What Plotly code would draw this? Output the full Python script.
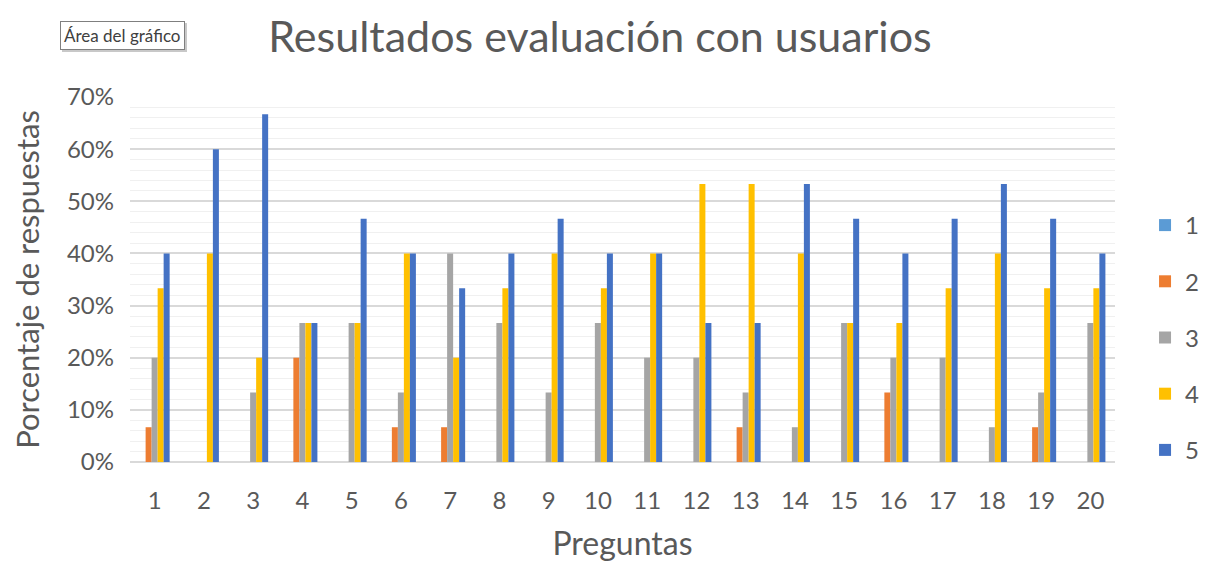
import plotly.graph_objects as go

preguntas = [str(i) for i in range(1, 21)]
serie_1 = [0] * 20
serie_2 = [6.67, 0, 0, 20, 0, 6.67, 6.67, 0, 0, 0, 0, 0, 6.67, 0, 0, 13.33, 0, 0, 6.67, 0]
serie_3 = [20, 0, 13.33, 26.67, 26.67, 13.33, 40, 26.67, 13.33, 26.67, 20, 20, 13.33, 6.67, 26.67, 20, 20, 6.67, 13.33, 26.67]
serie_4 = [33.33, 40, 20, 26.67, 26.67, 40, 20, 33.33, 40, 33.33, 40, 53.33, 53.33, 40, 26.67, 26.67, 33.33, 40, 33.33, 33.33]
serie_5 = [40, 60, 66.67, 26.67, 46.67, 40, 33.33, 40, 46.67, 40, 40, 26.67, 26.67, 53.33, 46.67, 40, 46.67, 53.33, 46.67, 40]
nombres = ["1", "2", "3", "4", "5"]
colores = ["#5B9BD5", "#ED7D31", "#A5A5A5", "#FFC000", "#4472C4"]
y_ticks = [0, 10, 20, 30, 40, 50, 60, 70]

FONT = "Lato, Noto Sans, sans-serif"
GREY = "#595959"

fig = go.Figure()
for nombre, valores, color in zip(nombres, [serie_1, serie_2, serie_3, serie_4, serie_5], colores):
    fig.add_trace(go.Bar(
        x=preguntas, y=[v / 100 for v in valores], name=nombre,
        marker=dict(color=color, line=dict(width=0)),
        legendgroup=nombre,
    ))

# page body has an 8px margin: figure sized to fit the window exactly
W, H = 1199, 554
L, T, PW, PH = 122, 89, 985, 365

fig.update_layout(
    width=W, height=H,
    paper_bgcolor="white", plot_bgcolor="white",
    margin=dict(l=L, r=W - L - PW, t=T, b=H - T - PH, autoexpand=False),
    barmode="group", bargap=0.39, bargroupgap=0,
    font=dict(family=FONT, color=GREY),
    title=dict(text="Resultados evaluación con usuarios", x=592 / W, xref="container",
               xanchor="center", y=1 - 29 / H, yanchor="middle",
               font=dict(size=43, color=GREY, family=FONT)),
    showlegend=True,
    legend=dict(x=1.0305, y=0.7096, xanchor="left", yanchor="top",
                font=dict(size=24, color=GREY, family=FONT),
                tracegroupgap=22, itemwidth=30, bgcolor="rgba(0,0,0,0)"),
    xaxis=dict(
        title=dict(text="Preguntas", font=dict(size=32, color=GREY, family=FONT), standoff=25),
        tickfont=dict(size=24, color=GREY, family=FONT),
        showgrid=False, showline=False, zeroline=False, ticks="",
        ticklabelstandoff=22,
    ),
    yaxis=dict(
        title=dict(text="Porcentaje de respuestas", font=dict(size=31, color=GREY, family=FONT), standoff=25),
        range=[0, 0.70], tickvals=[t / 100 for t in y_ticks], tickformat=".0%",
        tickfont=dict(size=24, color=GREY, family=FONT),
        showgrid=True, gridcolor="#D9D9D9", gridwidth=1.5,
        minor=dict(dtick=0.02, showgrid=True, gridcolor="#F0F0F0", gridwidth=1, ticks=""),
        zeroline=True, zerolinecolor="#D9D9D9", zerolinewidth=1.5,
        showline=False, ticks="", ticklabelstandoff=15,
    ),
)

box_x = (114 - L) / PW
box_y = 1 + (T - 28) / PH
fig.add_annotation(
    text="Área del gráfico", xref="paper", yref="paper",
    x=box_x, y=box_y, xanchor="center", yanchor="middle", xshift=2, yshift=-2,
    showarrow=False, font=dict(size=17, color="#C8C8C8", family=FONT),
    bordercolor="#C8C8C8", borderwidth=1, borderpad=3, bgcolor="#C8C8C8",
)
fig.add_annotation(
    text="Área del gráfico", xref="paper", yref="paper",
    x=box_x, y=box_y, xanchor="center", yanchor="middle",
    showarrow=False, font=dict(size=17, color="#404040", family=FONT),
    bordercolor="#7F7F7F", borderwidth=1, borderpad=3, bgcolor="white",
)

fig.write_html("out.html")
